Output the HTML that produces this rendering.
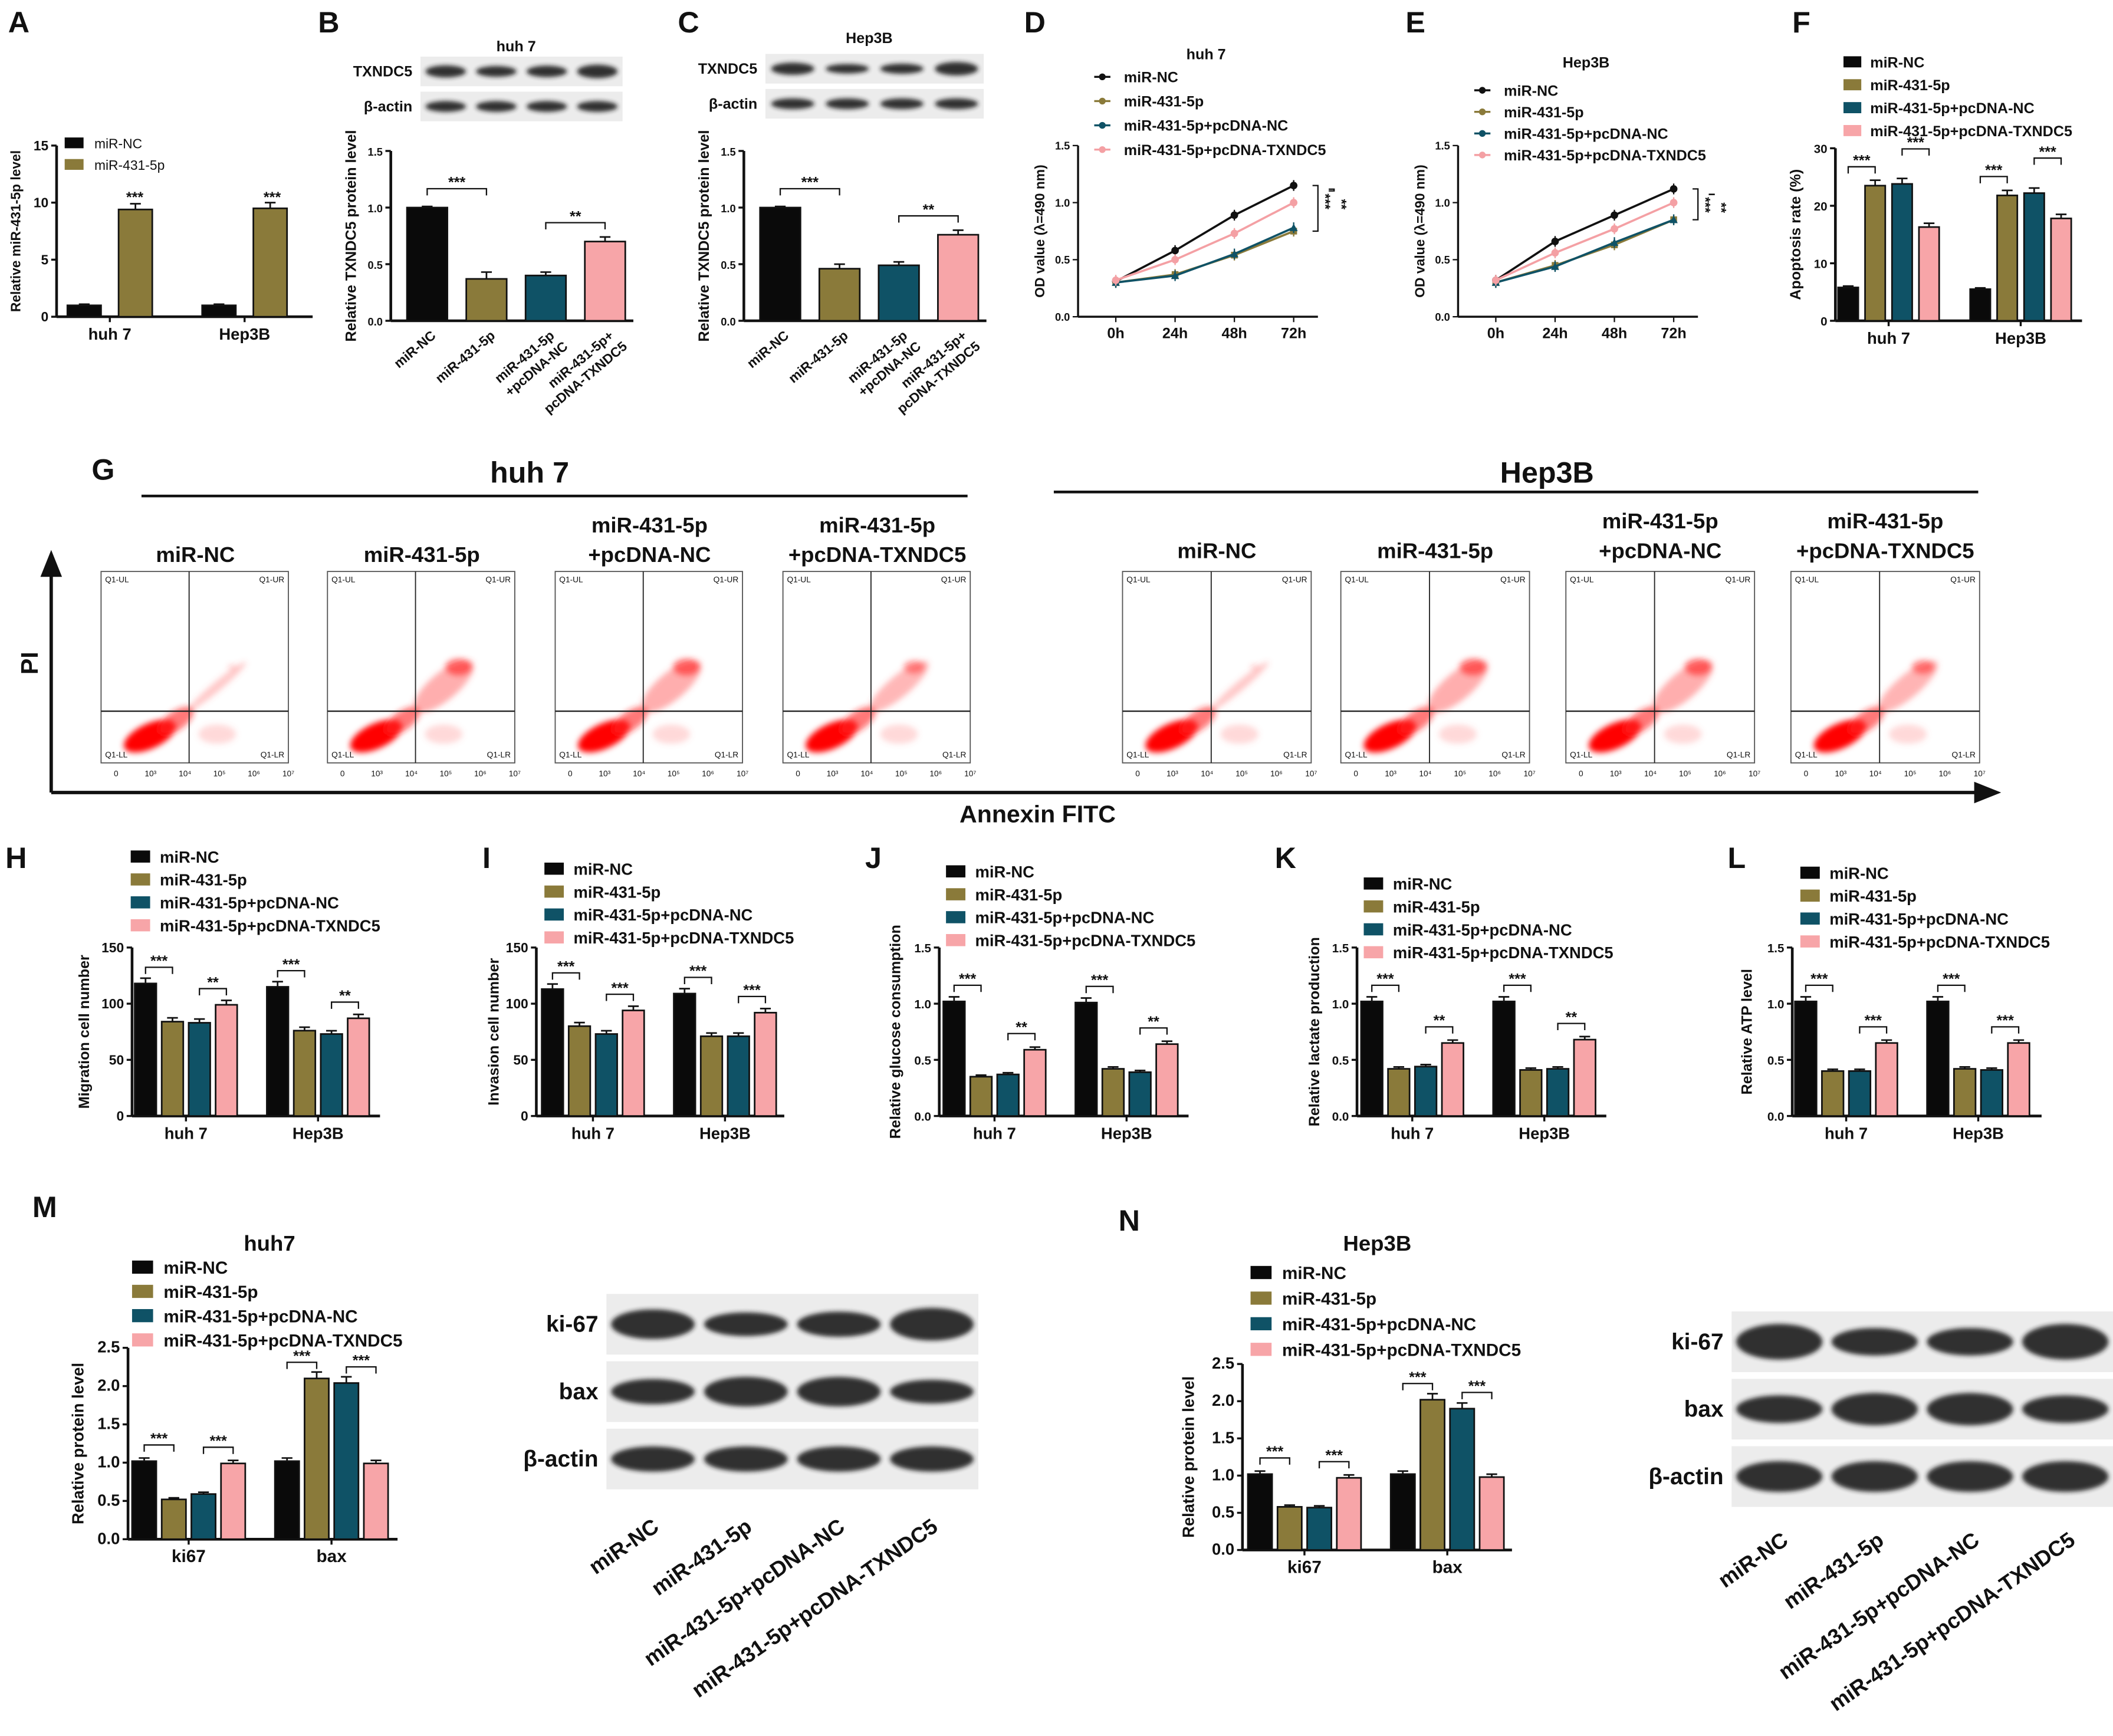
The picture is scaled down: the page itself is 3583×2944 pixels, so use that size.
<!DOCTYPE html>
<html><head><meta charset="utf-8"><style>
html,body{margin:0;padding:0;background:#fff}
svg{display:block;font-family:"Liberation Sans",sans-serif;font-weight:bold}
</style></head><body>
<svg id="fig" width="3583" height="2944" viewBox="0 0 1568 1288" preserveAspectRatio="none" xmlns="http://www.w3.org/2000/svg">
<defs>
<filter id="blur1" x="-20%" y="-50%" width="140%" height="200%"><feGaussianBlur stdDeviation="1.6"/></filter>
<filter id="blur2" x="-30%" y="-30%" width="160%" height="160%"><feGaussianBlur stdDeviation="2.2"/></filter>
</defs>
</svg>
<script>
const COLORS=['#0a0a0a','#8a7a3a','#0f5266','#f7a5a8'];
const LEG4=['miR-NC','miR-431-5p','miR-431-5p+pcDNA-NC','miR-431-5p+pcDNA-TXNDC5'];
// ---- data ----
const aCats=['huh 7','Hep3B'];
const aVals=[[1.0,9.4],[1.0,9.5]];
const aErr=[[0.1,0.5],[0.1,0.5]];
const bVals=[[1.0,0.37,0.40,0.70]];
const bErr=[[0.01,0.06,0.03,0.04]];
const cVals=[[1.0,0.46,0.49,0.76]];
const cErr=[[0.01,0.04,0.03,0.04]];
const timeLabels=['0h','24h','48h','72h'];
const dNC=[0.31,0.58,0.89,1.15];
const d431=[0.30,0.37,0.54,0.75];
const dPc=[0.30,0.36,0.55,0.78];
const dTx=[0.32,0.50,0.73,1.00];
const eNC=[0.32,0.66,0.89,1.12];
const e431=[0.30,0.45,0.63,0.85];
const ePc=[0.30,0.44,0.65,0.85];
const eTx=[0.32,0.56,0.77,1.00];
const fVals=[[5.8,23.5,23.8,16.3],[5.5,21.8,22.2,17.8]];
const hVals=[[118,84,83,99],[115,76,73,87]];
const iVals=[[113,80,73,94],[109,71,71,92]];
const jVals=[[1.02,0.35,0.37,0.59],[1.01,0.42,0.39,0.64]];
const kVals=[[1.02,0.42,0.44,0.65],[1.02,0.41,0.42,0.68]];
const lVals=[[1.02,0.40,0.40,0.65],[1.02,0.42,0.41,0.65]];
const mVals=[[1.02,0.52,0.59,0.99],[1.02,2.10,2.04,0.99]];
const nVals=[[1.02,0.58,0.57,0.97],[1.02,2.02,1.90,0.98]];
const cellCats=['huh 7','Hep3B'];
const protCats=['ki67','bax'];

const NS='http://www.w3.org/2000/svg';
const svg=document.getElementById('fig');
function el(tag,attrs,parent,text){const e=document.createElementNS(NS,tag);for(const k in attrs)e.setAttribute(k,attrs[k]);if(text!=null)e.textContent=text;(parent||svg).appendChild(e);return e;}
function txt(x,y,s,size,anchor,parent,name,rot){
  const t=el('text',{x:x,y:y,'font-size':size,'text-anchor':anchor||'start',fill:'#111'},parent,s);
  if(rot!=null)t.setAttribute('transform','rotate('+rot+' '+x+' '+y+')');
  
  
  return t;}
function legend(x,y,step,labels,size,parent){
  const g=el('g',{},parent);
  
  
  labels.forEach((l,i)=>{
    const r=el('rect',{x:x,y:y+i*step-size*0.75,width:size*1.2,height:size*0.75,fill:COLORS[i]},g);
    
    
    txt(x+size*1.8,y+i*step,l,size,'start',g,'legend-entry');
  });}
function bracket(g,x1,x2,y,s){
  el('path',{d:`M${x1} ${y+5}V${y}H${x2}V${y+5}`,stroke:'#111','stroke-width':1,fill:'none'},g);
  txt((x1+x2)/2,y-1,s,11,'middle',g,'significance');
}
function barChart(c){
  const g=el('g',{},svg);
  
  
  const ys=v=>c.y0-(v/c.ymax)*(c.y0-c.yt);
  el('line',{x1:c.ax,y1:c.yt,x2:c.ax,y2:c.y0,stroke:'#111','stroke-width':2},g);
  el('line',{x1:c.ax,y1:c.y0,x2:c.xEnd,y2:c.y0,stroke:'#111','stroke-width':2},g);
  c.ticks.forEach((t,i)=>{const y=ys(t);el('line',{x1:c.ax-4,y1:y,x2:c.ax,y2:y,stroke:'#111','stroke-width':1.5},g);txt(c.ax-6,y+3.5,c.tickLabels[i],c.tf||10,'end',g,'y-tick-label');});
  c.vals.forEach((grp,gi)=>{
    grp.forEach((v,bi)=>{
      const x=c.x0+gi*c.gstep+bi*c.step, y=ys(v);
      const e=(c.errs?c.errs[gi][bi]:v*0.04);
      el('line',{x1:x+c.bw/2,y1:ys(v+e),x2:x+c.bw/2,y2:y,stroke:'#111','stroke-width':1.2},g);
      el('line',{x1:x+c.bw/2-4,y1:ys(v+e),x2:x+c.bw/2+4,y2:ys(v+e),stroke:'#111','stroke-width':1.2},g);
      const r=el('rect',{x:x,y:y,width:c.bw,height:c.y0-y,fill:COLORS[c.colIdx?c.colIdx[bi]:bi],stroke:'#111','stroke-width':1.2},g);
      
      
    });
    if(c.cats){const cx=c.x0+gi*c.gstep+((grp.length-1)*c.step+c.bw)/2;
      el('line',{x1:cx,y1:c.y0,x2:cx,y2:c.y0+4,stroke:'#111','stroke-width':1.5},g);
      txt(cx,c.y0+17,c.cats[gi],c.cf||12,'middle',g,'x-tick-label');}
    if(c.sig)c.sig.forEach(s=>{
      const a=c.x0+gi*c.gstep+s[0]*c.step+c.bw/2,b=c.x0+gi*c.gstep+s[1]*c.step+c.bw/2;
      const top=Math.max(grp[s[0]],grp[s[1]]);
      bracket(g,a,b,ys(top)-(s[3]||14),s[2]);
    });
  });
  if(c.ytitle)txt(c.tx,(c.yt+c.y0)/2,c.ytitle,c.ytf||11,'middle',g,'y-axis-title',-90);
  return g;
}
function lineChart(c){
  const g=el('g',{},svg);
  
  
  const ys=v=>c.y0-(v/1.5)*(c.y0-c.yt);
  const xs=i=>c.x0+i*44;
  el('line',{x1:c.ax,y1:c.yt,x2:c.ax,y2:c.y0,stroke:'#111','stroke-width':1.5},g);
  el('line',{x1:c.ax,y1:c.y0,x2:xs(3)+18,y2:c.y0,stroke:'#111','stroke-width':1.5},g);
  [0,0.5,1,1.5].forEach((t,i)=>{const y=ys(t);el('line',{x1:c.ax-4,y1:y,x2:c.ax,y2:y,stroke:'#111'},g);txt(c.ax-6,y+3,['0.0','0.5','1.0','1.5'][i],8,'end',g,'y-tick-label');});
  timeLabels.forEach((l,i)=>{el('line',{x1:xs(i),y1:c.y0,x2:xs(i),y2:c.y0+4,stroke:'#111'},g);txt(xs(i),c.y0+16,l,11,'middle',g,'x-tick-label');});
  const lc=['#111','#8a7a3a','#0f5266','#f4a0a4'];
  c.series.forEach((s,si)=>{
    const p=el('polyline',{points:s.map((v,i)=>xs(i)+','+ys(v)).join(' '),fill:'none',stroke:lc[si],'stroke-width':1.6},g);
    
    
    s.forEach((v,i)=>{
      el('line',{x1:xs(i),y1:ys(v)-4,x2:xs(i),y2:ys(v)+4,stroke:lc[si]},g);
      const m=si==2?el('polygon',{points:`${xs(i)-3},${ys(v)+2.5} ${xs(i)+3},${ys(v)+2.5} ${xs(i)},${ys(v)-3}`,fill:lc[si]},g):si==1?el('rect',{x:xs(i)-2.5,y:ys(v)-2.5,width:5,height:5,fill:lc[si]},g):el('circle',{cx:xs(i),cy:ys(v),r:2.8,fill:lc[si]},g);
      
      
    });
  });
  const lg=el('g',{},g);
  
  
  LEG4.forEach((l,i)=>{const y=c.ly+i*c.ls;el('line',{x1:c.lx,y1:y-4,x2:c.lx+12,y2:y-4,stroke:lc[i],'stroke-width':1.5},lg);el('circle',{cx:c.lx+6,cy:y-4,r:2.5,fill:lc[i]},lg);txt(c.lx+22,y,l,11,'start',lg,'legend-entry');});
  const xr=xs(3)+14;
  el('path',{d:`M${xr} ${ys(c.series[0][3])}h4V${ys(c.series[1][3])}h-4`,stroke:'#111',fill:'none'},g);
  el('path',{d:`M${xr+12} ${ys(c.series[0][3])+4}h4V${ys(c.series[3][3])+ (c.series[1][3]-c.series[3][3])*40}h-4`,stroke:'#111',fill:'none'},g);
  txt(xr+6,ys(c.series[0][3])+6,'***',10,'start',g,'significance',90);
  txt(xr+18,ys(c.series[0][3])+10,'**',10,'start',g,'significance',90);
  txt(c.tx,(c.yt+c.y0)/2,'OD value (λ=490 nm)',10,'middle',g,'y-axis-title',-90);
  txt(c.ttx,c.tty,c.title,11,'middle',g,'chart-title');
}
function blot(x,y,w,rows,labels,bandW,rowH,gap,thick,name,lf){
  const g=el('g',{},svg);
  
  
  rows.forEach((r,ri)=>{
    const yy=y+ri*(rowH+gap);
    el('rect',{x:x,y:yy,width:w,height:rowH,fill:'#ececec'},g);
    r.forEach((s,bi)=>{const cx=x+w/8+bi*w/4;
      const b=el('ellipse',{cx:cx,cy:yy+rowH/2,rx:bandW/2,ry:thick*s,fill:'#1e1e1e',opacity:0.9,filter:'url(#blur1)'},g);
      
      });
    txt(x-6,yy+rowH/2+lf/3,labels[ri],lf,'end',g,'blot-label');
  });
}
function flow(x,y,w,h,p,name){
  const g=el('g',{},svg);
  
  
  el('rect',{x:x,y:y,width:w,height:h,fill:'#fff',stroke:'#555','stroke-width':0.8},g);
  const cl=el('g',{filter:'url(#blur2)'},g);
  el('ellipse',{cx:x+w*0.26,cy:y+h*0.86,rx:w*0.15,ry:h*0.065,fill:'#f00',transform:`rotate(-25 ${x+w*0.26} ${y+h*0.86})`},cl);
  el('ellipse',{cx:x+w*0.4,cy:y+h*0.78,rx:w*0.11,ry:h*0.05,fill:'#f22',opacity:0.6,transform:`rotate(-35 ${x+w*0.4} ${y+h*0.78})`},cl);
  el('ellipse',{cx:x+w*0.62,cy:y+h*0.6,rx:w*0.2,ry:h*0.08*p,fill:'#f55',opacity:0.25+0.25*p,transform:`rotate(-40 ${x+w*0.62} ${y+h*0.6})`},cl);
  el('ellipse',{cx:x+w*0.7,cy:y+h*0.5,rx:w*0.08*p,ry:h*0.05*p,fill:'#f00',opacity:0.55*p},cl);
  el('ellipse',{cx:x+w*0.62,cy:y+h*0.85,rx:w*0.1,ry:h*0.05,fill:'#f66',opacity:0.25},cl);
  el('line',{x1:x+w*0.47,y1:y,x2:x+w*0.47,y2:y+h,stroke:'#222','stroke-width':0.8},g);
  el('line',{x1:x,y1:y+h*0.73,x2:x+w,y2:y+h*0.73,stroke:'#222','stroke-width':1},g);
  [['Q1-UL',x+3,y+8,'start'],['Q1-UR',x+w-3,y+8,'end'],['Q1-LL',x+3,y+h-4,'start'],['Q1-LR',x+w-3,y+h-4,'end']].forEach(q=>txt(q[1],q[2],q[0],6,q[3],g,'quadrant-label').setAttribute('font-weight','normal'));
  ['0','10³','10⁴','10⁵','10⁶','10⁷'].forEach((l,i)=>txt(x+w*(0.08+i*0.184),y+h+10,l,6,'middle',g,'x-tick-label').setAttribute('font-weight','normal'));
}
// ---- panel letters ----
[['A',6,24],['B',236,24],['C',503,24],['D',760,24],['E',1043,24],['F',1330,24],['G',68,356],['H',4,644],['I',358,644],['J',642,644],['K',946,644],['L',1282,644],['M',24,903],['N',830,913]].forEach(p=>txt(p[1],p[2],p[0],22,'start',null,'panel-letter-'+p[0]));
// A
barChart({name:'chart-a',ax:42,y0:235,yt:108,ymax:15,ticks:[0,5,10,15],tickLabels:['0','5','10','15'],xEnd:232,x0:50,bw:25,step:38,gstep:100,vals:aVals,errs:aErr,cats:aCats,colIdx:[0,1],sig:[],ytitle:'Relative miR-431-5p level',tx:15,ytf:10});
txt(100,150,'***',11,'middle',null,'significance');txt(202,150,'***',11,'middle',null,'significance');
const la=el('g',{});
['miR-NC','miR-431-5p'].forEach((l,i)=>{el('rect',{x:48,y:102+i*16,width:14,height:8,fill:COLORS[i]},la);txt(70,110+i*16,l,10,'start',la,'legend-entry').setAttribute('font-weight','normal');});
// B, C
blot(312,42,150,[[0.9,0.8,0.85,1],[0.8,0.8,0.8,0.8]],['TXNDC5','β-actin'],30,22,4,5,'blot-b',11);
txt(383,38,'huh 7',11,'middle',null,'title-b');
barChart({name:'chart-b',ax:290,y0:238,yt:112,ymax:1.5,ticks:[0,0.5,1,1.5],tickLabels:['0.0','0.5','1.0','1.5'],tf:8,xEnd:470,x0:302,bw:30,step:44,gstep:0,vals:bVals,errs:bErr,sig:[[0,1,'***',14],[2,3,'**',14]],ytitle:'Relative TXNDC5 protein level',tx:264});
blot(568,40,162,[[0.9,0.7,0.75,1],[0.8,0.8,0.8,0.8]],['TXNDC5','β-actin'],32,22,4,5,'blot-c',11);
txt(645,32,'Hep3B',11,'middle',null,'title-c');
barChart({name:'chart-c',ax:552,y0:238,yt:112,ymax:1.5,ticks:[0,0.5,1,1.5],tickLabels:['0.0','0.5','1.0','1.5'],tf:8,xEnd:732,x0:564,bw:30,step:44,gstep:0,vals:cVals,errs:cErr,sig:[[0,1,'***',14],[2,3,'**',14]],ytitle:'Relative TXNDC5 protein level',tx:526});
[[302,'miR-NC',''],[346,'miR-431-5p',''],[390,'miR-431-5p','+pcDNA-NC'],[434,'miR-431-5p+','pcDNA-TXNDC5']].forEach(l=>{
  [0,262].forEach(off=>{const t=txt(l[0]+off+22,250,l[1],10,'end',null,'x-tick-label',-40);if(l[2]){const t2=txt(l[0]+off+32,258,l[2],10,'end',null,'x-tick-label',-40);}});
});
// D, E
lineChart({name:'chart-d',ax:800,y0:235,yt:108,x0:828,series:[dNC,d431,dPc,dTx],lx:812,ly:61,ls:18,tx:775,title:'huh 7',ttx:895,tty:44});
lineChart({name:'chart-e',ax:1082,y0:235,yt:108,x0:1110,series:[eNC,e431,ePc,eTx],lx:1094,ly:71,ls:16,tx:1057,title:'Hep3B',ttx:1177,tty:50});
// F
barChart({name:'chart-f',ax:1362,y0:238,yt:110,ymax:30,ticks:[0,10,20,30],tickLabels:['0','10','20','30'],tf:9,xEnd:1545,x0:1364,bw:15,step:20,gstep:98,vals:fVals,cats:['huh 7','Hep3B'],sig:[[0,1,'***',14],[2,3,'***',26]],ytitle:'Apoptosis rate (%)',tx:1336});
legend(1368,50,17,LEG4,11);
// G
txt(393,358,'huh 7',22,'middle',null,'group-title-huh7');
el('line',{x1:105,y1:368,x2:718,y2:368,stroke:'#111','stroke-width':2});
txt(1148,358,'Hep3B',22,'middle',null,'group-title-hep3b');
el('line',{x1:782,y1:365,x2:1468,y2:365,stroke:'#111','stroke-width':2});
el('line',{x1:38,y1:588,x2:38,y2:420,stroke:'#111','stroke-width':2.5});
el('polygon',{points:'30,428 38,408 46,428',fill:'#111'});
el('line',{x1:38,y1:588,x2:1470,y2:588,stroke:'#111','stroke-width':2.5});
el('polygon',{points:'1465,580 1485,588 1465,596',fill:'#111'});
txt(28,492,'PI',18,'middle',null,'y-axis-title-pi',-90);
txt(770,610,'Annexin FITC',18,'middle',null,'x-axis-title-annexin');
const fx=[[75,'miR-NC',null,0.3],[243,'miR-431-5p',null,0.9],[412,'miR-431-5p','+pcDNA-NC',0.9],[581,'miR-431-5p','+pcDNA-TXNDC5',0.7]];
fx.forEach((f,i)=>{flow(f[0],424,139,142,f[3],'flow-huh7-'+i);
  if(f[2]){txt(f[0]+70,395,f[1],16,'middle',null,'flow-title');txt(f[0]+70,417,f[2],16,'middle',null,'flow-title');}else txt(f[0]+70,417,f[1],16,'middle',null,'flow-title');});
const fx2=[[833,'miR-NC',null,0.3],[995,'miR-431-5p',null,0.9],[1162,'miR-431-5p','+pcDNA-NC',0.9],[1329,'miR-431-5p','+pcDNA-TXNDC5',0.75]];
fx2.forEach((f,i)=>{flow(f[0],424,140,142,f[3],'flow-hep3b-'+i);
  if(f[2]){txt(f[0]+70,392,f[1],16,'middle',null,'flow-title');txt(f[0]+70,414,f[2],16,'middle',null,'flow-title');}else txt(f[0]+70,414,f[1],16,'middle',null,'flow-title');});
// H-L
const tk=[0,0.5,1,1.5],tkl=['0.0','0.5','1.0','1.5'];
barChart({name:'chart-h',ax:98,y0:828,yt:703,ymax:150,ticks:[0,50,100,150],tickLabels:['0','50','100','150'],xEnd:282,x0:100,bw:16,step:20,gstep:98,vals:hVals,cats:cellCats,sig:[[0,1,'***',12],[2,3,'**',12]],ytitle:'Migration cell number',tx:66});
legend(97,640,17,LEG4,12);
barChart({name:'chart-i',ax:398,y0:828,yt:703,ymax:150,ticks:[0,50,100,150],tickLabels:['0','50','100','150'],xEnd:582,x0:402,bw:16,step:20,gstep:98,vals:iVals,cats:cellCats,sig:[[0,1,'***',12],[2,3,'***',12]],ytitle:'Invasion cell number',tx:370});
legend(404,649,17,LEG4,12);
barChart({name:'chart-j',ax:697,y0:828,yt:703,ymax:1.5,ticks:tk,tickLabels:tkl,tf:9,xEnd:882,x0:700,bw:16,step:20,gstep:98,vals:jVals,cats:cellCats,sig:[[0,1,'***',12],[2,3,'**',12]],ytitle:'Relative glucose consumption',tx:668});
legend(702,651,17,LEG4,12);
barChart({name:'chart-k',ax:1007,y0:828,yt:703,ymax:1.5,ticks:tk,tickLabels:tkl,tf:9,xEnd:1192,x0:1010,bw:16,step:20,gstep:98,vals:kVals,cats:cellCats,sig:[[0,1,'***',12],[2,3,'**',12]],ytitle:'Relative lactate production',tx:979});
legend(1012,660,17,LEG4,12);
barChart({name:'chart-l',ax:1330,y0:828,yt:703,ymax:1.5,ticks:tk,tickLabels:tkl,tf:9,xEnd:1515,x0:1332,bw:16,step:20,gstep:98,vals:lVals,cats:cellCats,sig:[[0,1,'***',12],[2,3,'***',12]],ytitle:'Relative ATP level',tx:1300});
legend(1336,652,17,LEG4,12);
// M, N
const pt=[0,0.5,1,1.5,2,2.5],ptl=['0.0','0.5','1.0','1.5','2.0','2.5'];
txt(200,928,'huh7',16,'middle',null,'title-m');
barChart({name:'chart-m',ax:95,y0:1142,yt:1000,ymax:2.5,ticks:pt,tickLabels:ptl,tf:12,cf:13,xEnd:295,x0:98,bw:18,step:22,gstep:106,vals:mVals,cats:protCats,sig:[[0,1,'***',12],[2,3,'***',12]],ytitle:'Relative  protein level',tx:62,ytf:12});
legend(98,945,18,LEG4,13);
txt(1022,928,'Hep3B',16,'middle',null,'title-n');
barChart({name:'chart-n',ax:922,y0:1150,yt:1012,ymax:2.5,ticks:pt,tickLabels:ptl,tf:12,cf:13,xEnd:1122,x0:926,bw:18,step:22,gstep:106,vals:nVals,cats:protCats,sig:[[0,1,'***',12],[2,3,'***',12]],ytitle:'Relative  protein level',tx:886,ytf:12});
legend(928,949,19,LEG4,13);
blot(450,960,276,[[1,0.8,0.85,1.1],[0.85,1,1,0.8],[0.85,0.85,0.85,0.85]],['ki-67','bax','β-actin'],62,45,5,11,'blot-m',17);
blot(1285,973,283,[[1.1,0.85,0.85,1.1],[0.85,1,1,0.85],[0.95,0.95,0.95,0.95]],['ki-67','bax','β-actin'],64,45,5,12,'blot-n',17);
['miR-NC','miR-431-5p','miR-431-5p+pcDNA-NC','miR-431-5p+pcDNA-TXNDC5'].forEach((l,i)=>{
  txt(490+i*69,1135,l,16,'end',null,'x-tick-label',-35);
  txt(1328+i*71,1145,l,16,'end',null,'x-tick-label',-35);
});
</script>
</body></html>
